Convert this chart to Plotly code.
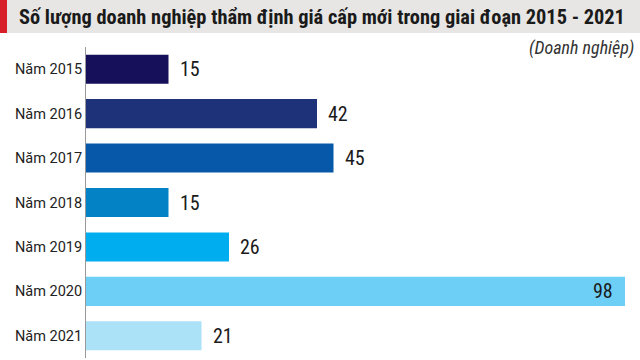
import plotly.graph_objects as go

categories = ["Năm 2015", "Năm 2016", "Năm 2017", "Năm 2018", "Năm 2019", "Năm 2020", "Năm 2021"]
values = [15, 42, 45, 15, 26, 98, 21]
colors = ["#16105A", "#1E3279", "#0758A8", "#0382C5", "#00AEEF", "#6DCFF6", "#ABE2F8"]
title_text = "Số lượng doanh nghiệp thẩm định giá cấp mới trong giai đoạn 2015 - 2021"
unit_text = "(Doanh nghiệp)"

W, H = 640, 360
ML, MR, MT, MB = 86, 4, 47, 2
PW, PH = W - ML - MR, H - MT - MB

def px2x(px):
    return (px - ML) / PW

def px2y(py):
    return 1 - (py - MT) / PH

NARROW = "Liberation Sans Narrow, Roboto Condensed, DejaVu Sans Condensed, Roboto, sans-serif"

fig = go.Figure()
fig.add_trace(go.Bar(
    x=values, y=categories, orientation="h",
    marker=dict(color=colors, line=dict(width=0)),
    hoverinfo="skip",
))

annotations = []
vmax = max(values)
for c, v in zip(categories, values):
    inside = v == vmax
    annotations.append(dict(
        x=v, y=c, xref="x", yref="y", text=str(v), showarrow=False,
        xanchor="right" if inside else "left", xshift=-10 if inside else 9,
        font=dict(family=NARROW, size=20, color="#1a1a1a"),
    ))

annotations.append(dict(
    x=px2x(636), y=px2y(48), xref="paper", yref="paper", text="<i>" + unit_text + "</i>",
    showarrow=False, xanchor="right", yanchor="middle",
    font=dict(family=NARROW, size=18, color="#333333"),
))
annotations.append(dict(
    x=px2x(17), y=px2y(17), xref="paper", yref="paper", text="<b>" + title_text + "</b>",
    showarrow=False, xanchor="left", yanchor="middle",
    font=dict(family=NARROW, size=20.4, color="#1a1a1a"),
))

shapes = [
    dict(type="rect", xref="paper", yref="paper", x0=px2x(0), x1=px2x(W), y0=px2y(33), y1=px2y(0),
         fillcolor="#E7E6E4", line=dict(width=0), layer="below"),
    dict(type="rect", xref="paper", yref="paper", x0=px2x(0), x1=px2x(7), y0=px2y(33), y1=px2y(0),
         fillcolor="#D71F2A", line=dict(width=0), layer="above"),
]

fig.update_layout(
    width=W, height=H,
    margin=dict(l=ML, r=MR, t=MT, b=MB),
    paper_bgcolor="white", plot_bgcolor="white",
    bargap=0.345,
    showlegend=False,
    annotations=annotations,
    shapes=shapes,
    xaxis=dict(range=[0, 100], visible=False, fixedrange=True),
    yaxis=dict(
        type="category", range=[6.5, -0.5], showline=True, linecolor="#999999", linewidth=1,
        showgrid=False, zeroline=False, ticks="", ticklen=0,
        tickfont=dict(family="Roboto, sans-serif", size=14.5, color="#222222"),
        fixedrange=True,
    ),
)

fig.write_html(
    "out.html",
    config={"displayModeBar": False},
    post_script="document.body.style.margin='0';document.body.style.overflow='hidden';",
)
